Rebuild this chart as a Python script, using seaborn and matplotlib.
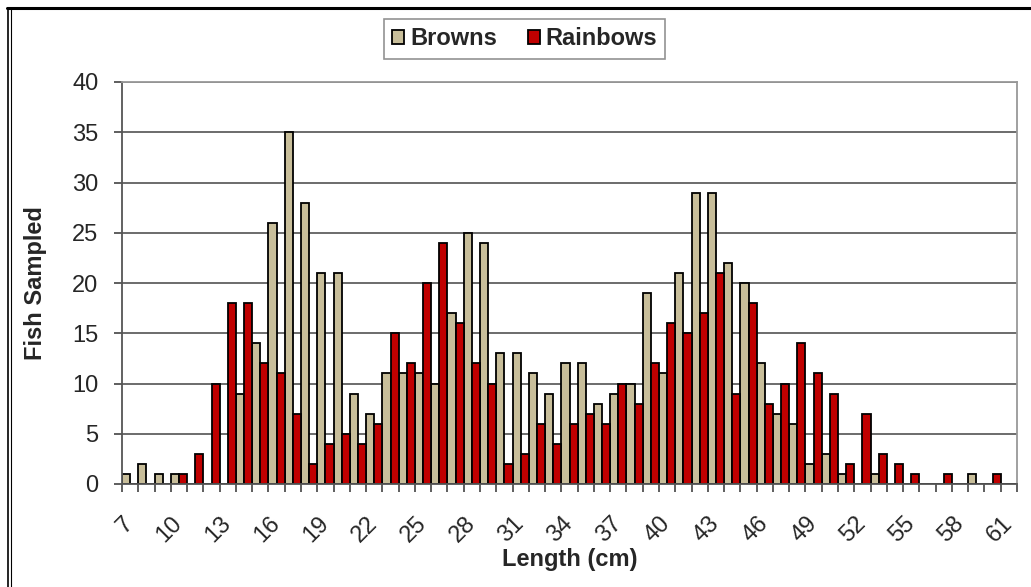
import numpy as np
import pandas as pd
import matplotlib
matplotlib.use("Agg")
import matplotlib.pyplot as plt
import seaborn as sns
from matplotlib.lines import Line2D

# fish counts per 1 cm length class
lengths = list(range(7, 62))
browns = [1, 2, 1, 1, 0, 0, 0, 9, 14, 26, 35, 28, 21, 21, 9, 7, 11, 11, 11, 10,
          17, 25, 24, 13, 13, 11, 9, 12, 12, 8, 9, 10, 19, 11, 21, 29, 29, 22, 20, 12,
          7, 6, 2, 3, 1, 0, 1, 0, 0, 0, 0, 0, 1, 0, 0]
rainbows = [0, 0, 0, 1, 3, 10, 18, 18, 12, 11, 7, 2, 4, 5, 4, 6, 15, 12, 20, 24,
            16, 12, 10, 2, 3, 6, 4, 6, 7, 6, 10, 8, 12, 16, 15, 17, 21, 9, 18, 8,
            10, 14, 11, 9, 2, 7, 3, 2, 1, 0, 1, 0, 0, 1, 0]
species = ["Browns", "Rainbows"]
colors = {"Browns": "#C8BE9A", "Rainbows": "#C00000"}

df = pd.DataFrame({
    "Length": lengths * 2,
    "Species": ["Browns"] * len(lengths) + ["Rainbows"] * len(lengths),
    "Count": browns + rainbows,
})

sns.set_style("white")
plt.rcParams["font.family"] = ["Liberation Sans", "DejaVu Sans"]

fig = plt.figure(figsize=(10.31, 5.87), dpi=100)
ax = fig.add_axes([122 / 1031, 1 - 484 / 587, 895 / 1031, 402 / 587])

sns.barplot(data=df, x="Length", y="Count", hue="Species", hue_order=species,
            palette=colors, edgecolor="black", linewidth=1.3, width=1.0,
            saturation=1, ax=ax)

ax.set_xlim(-0.5, len(lengths) - 0.5)
ax.set_ylim(0, 40)
ax.set_yticks(range(0, 41, 5))
ax.grid(axis="y", color="#606060", linewidth=1.3)
ax.set_axisbelow(True)

# labels every third class, tick marks on class boundaries
ax.set_xticks(range(0, len(lengths), 3))
ax.set_xticklabels([str(v) for v in lengths[::3]], rotation=45, ha="right",
                   va="center", rotation_mode="anchor")
ax.set_xticks(np.arange(-0.5, len(lengths), 1), minor=True)
ax.tick_params(axis="x", which="major", length=0, pad=26, labelsize=17)
ax.tick_params(axis="x", which="minor", length=6, width=1.1, color="#333333",
               direction="out", bottom=True)
ax.tick_params(axis="y", length=6, width=1.1, color="#333333", direction="out",
               left=True, pad=11, labelsize=17)

for side in ["left", "bottom"]:
    ax.spines[side].set_color("#555555")
    ax.spines[side].set_linewidth(1.3)
for side in ["top", "right"]:
    ax.spines[side].set_visible(True)
    ax.spines[side].set_color("#999999")
    ax.spines[side].set_linewidth(1.3)

ax.set_xlabel("Length (cm)", fontsize=17, fontweight="bold")
ax.set_ylabel("Fish Sampled", fontsize=17, fontweight="bold")
ax.xaxis.set_label_coords(0.5, -0.16)
ax.yaxis.set_label_coords(-0.084, 0.5)

handles, labels = ax.get_legend_handles_labels()
ax.get_legend().remove()
leg = fig.legend(handles, labels, loc="center", bbox_to_anchor=(0.509, 0.934),
                 ncol=2, frameon=True, fancybox=False, edgecolor="#777777",
                 prop={"weight": "bold", "size": 17}, handlelength=0.5,
                 handleheight=0.5, handletextpad=0.25, columnspacing=1.3,
                 borderpad=0.35, borderaxespad=0)
leg.get_frame().set_linewidth(1.2)

# outer chart frame (clipped at right and bottom in the original)
fig.add_artist(Line2D([7 / 1031, 1], [1 - 8 / 587] * 2, color="black", linewidth=2.2,
                      transform=fig.transFigure))
fig.add_artist(Line2D([7.5 / 1031] * 2, [0, 1 - 8 / 587], color="black", linewidth=1.2,
                      transform=fig.transFigure))
fig.add_artist(Line2D([10.5 / 1031] * 2, [0, 1 - 8 / 587], color="black", linewidth=0.8,
                      transform=fig.transFigure))

fig.savefig("out.png", dpi=100)
